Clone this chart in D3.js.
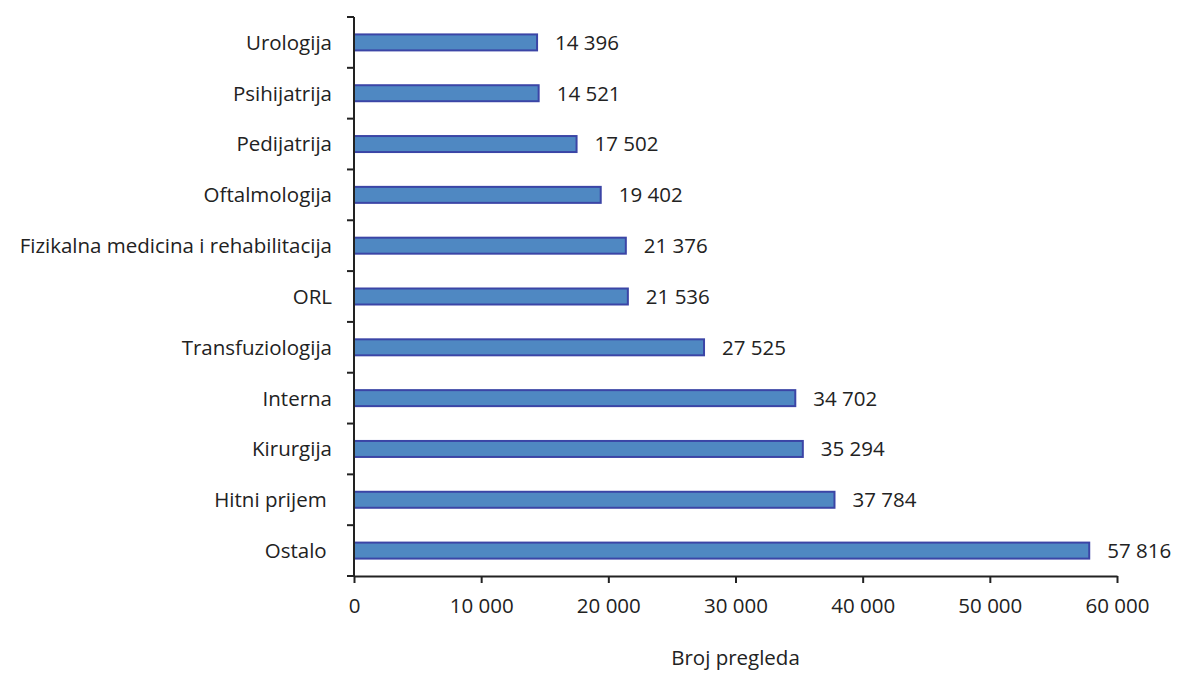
<!DOCTYPE html>
<html>
<head>
<meta charset="utf-8">
<script src="https://cdn.jsdelivr.net/npm/d3@7"></script>
<style>
  body { margin: 0; background: #fff; }
  text { font-family: "Open Sans", sans-serif; fill: #222; }
</style>
</head>
<body>
<svg id="chart" width="1177" height="673"></svg>
<script>
const categories = ["Urologija", "Psihijatrija", "Pedijatrija", "Oftalmologija",
    "Fizikalna medicina i rehabilitacija", "ORL", "Transfuziologija", "Interna",
    "Kirurgija", "Hitni prijem ", "Ostalo "];
const values = [14396, 14521, 17502, 19402, 21376, 21536, 27525, 34702, 35294, 37784, 57816];
const xTicks = [0, 10000, 20000, 30000, 40000, 50000, 60000];

const margin = {top: 17, left: 354},
    width = 1117 - 354,
    height = 576 - 17;

const fs = "20.5px";
const fmt = v => d3.format(",")(v).replace(/,/g, " ");

const svg = d3.select("#chart");
const g = svg.append("g")
    .attr("transform", `translate(${margin.left},${margin.top})`);

const x = d3.scaleLinear().domain([0, 60000]).range([0, width]);
const y = d3.scaleBand().domain(categories).range([0, height]);

// bars
const barH = 16;
g.selectAll("rect.bar")
    .data(values)
    .join("rect")
    .attr("class", "bar")
    .attr("x", 0)
    .attr("y", (d, i) => y(categories[i]) + y.bandwidth() / 2 - barH / 2)
    .attr("width", d => x(d))
    .attr("height", barH)
    .attr("fill", "#4f88c2")
    .attr("stroke", "#3b45a6")
    .attr("stroke-width", 2);

// value labels
g.selectAll("text.val")
    .data(values)
    .join("text")
    .attr("class", "val")
    .attr("x", d => x(d) + 18)
    .attr("y", (d, i) => y(categories[i]) + y.bandwidth() / 2)
    .attr("dy", "0.36em")
    .style("font-size", fs)
    .text(d => fmt(d));

// y axis: ticks at band boundaries
const yAxis = g.append("g").attr("class", "y-axis");
yAxis.append("line")
    .attr("x1", 0).attr("x2", 0)
    .attr("y1", 0).attr("y2", height)
    .attr("stroke", "#222").attr("stroke-width", 2);
const bounds = categories.map(c => y(c)).concat([height]);
yAxis.selectAll("line.tick")
    .data(bounds)
    .join("line")
    .attr("class", "tick")
    .attr("x1", -7).attr("x2", 0)
    .attr("y1", d => d).attr("y2", d => d)
    .attr("stroke", "#222").attr("stroke-width", 2);
yAxis.selectAll("text")
    .data(categories)
    .join("text")
    .attr("x", -22)
    .attr("y", d => y(d) + y.bandwidth() / 2)
    .attr("dy", "0.36em")
    .attr("text-anchor", "end")
    .style("white-space", "pre")
    .style("font-size", fs)
    .text(d => d);

// x axis
const xAxis = g.append("g")
    .attr("class", "x-axis")
    .attr("transform", `translate(0,${height})`)
    .call(d3.axisBottom(x).tickValues(xTicks).tickSize(7).tickSizeOuter(0).tickPadding(15).tickFormat(fmt));
xAxis.select(".domain").attr("stroke", "#222").attr("stroke-width", 2);
xAxis.selectAll(".tick line").attr("stroke", "#222").attr("stroke-width", 2);
xAxis.selectAll(".tick text")
    .style("font-size", fs)
    .style("font-family", "'Open Sans', sans-serif")
    .attr("fill", "#222");

// x label
g.append("text")
    .attr("x", x(30000))
    .attr("y", height + 89)
    .attr("text-anchor", "middle")
    .style("font-size", fs)
    .text("Broj pregleda");
</script>
</body>
</html>
